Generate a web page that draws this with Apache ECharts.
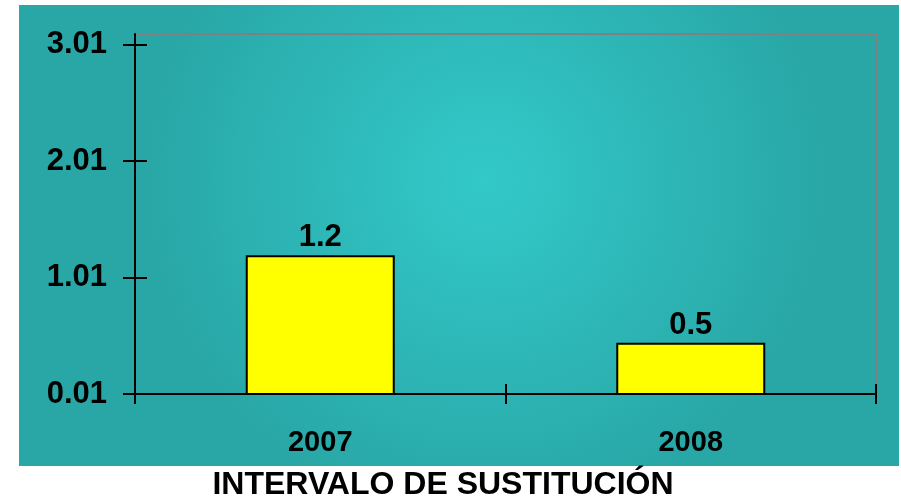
<!DOCTYPE html>
<html>
<head>
    <meta charset="utf-8">
    <title>Intervalo de sustitución</title>
    <script src="https://cdn.jsdelivr.net/npm/echarts@6/dist/echarts.min.js"></script>
    <style>
        html, body { margin: 0; padding: 0; background: #ffffff; }
        #main { width: 901px; height: 500px; }
    </style>
</head>
<body>
<div id="main"></div>
<script>
    // datos
    var years = ['2007', '2008'];
    var intervalo = [1.2, 0.45];
    var yTicks = [0.01, 1.01, 2.01, 3.01];

    var FONT = 'Liberation Sans, Arial, sans-serif';
    var myChart = echarts.init(document.getElementById('main'));

    var option = {
        animation: false,
        backgroundColor: '#ffffff',
        graphic: [{
            type: 'rect',
            z: -10,
            shape: { x: 19, y: 5, width: 880, height: 461 },
            style: {
                fill: {
                    type: 'radial', x: 0.53, y: 0.38, r: 0.75,
                    colorStops: [
                        { offset: 0, color: '#33c9c9' },
                        { offset: 1, color: '#29a6a6' }
                    ]
                }
            }
        }],
        title: {
            text: 'INTERVALO DE SUSTITUCIÓN',
            left: 438,
            textAlign: 'center',
            top: 464,
            textStyle: { fontFamily: FONT, fontSize: 32, fontWeight: 'bold', color: '#000' }
        },
        grid: {
            left: 135, right: 25, top: 34, bottom: 106,
            show: true, borderColor: '#808080', borderWidth: 2,
            backgroundColor: 'transparent'
        },
        xAxis: [{
            type: 'category',
            data: years,
            boundaryGap: true,
            axisLine: { lineStyle: { color: '#000', width: 2 } },
            axisTick: { show: true, alignWithLabel: false, interval: 0, length: 10, lineStyle: { color: '#000', width: 2 } },
            axisLabel: { margin: 34, fontFamily: FONT, fontSize: 29, fontWeight: 'bold', color: '#000' }
        }, {
            type: 'category',
            data: years,
            position: 'bottom',
            boundaryGap: true,
            axisLine: { show: false },
            axisTick: { show: true, interval: 0, inside: true, length: 10, lineStyle: { color: '#000', width: 2 } },
            axisLabel: { show: false }
        }],
        yAxis: [{
            type: 'value',
            min: 0.01,
            max: 3.1,
            axisLine: { show: true, lineStyle: { color: '#000', width: 2 } },
            axisTick: { show: true, length: 12, customValues: yTicks, lineStyle: { color: '#000', width: 2 } },
            splitLine: { show: false },
            axisLabel: {
                customValues: yTicks,
                margin: 28,
                padding: [8, 0, 0, 0],
                verticalAlign: 'middle',
                fontFamily: FONT, fontSize: 31, fontWeight: 'bold', color: '#000',
                formatter: function (v) { return v.toFixed(2); }
            }
        }, {
            type: 'value',
            min: 0.01,
            max: 3.1,
            position: 'left',
            axisLine: { show: false },
            axisTick: { show: true, inside: true, length: 12, customValues: yTicks, lineStyle: { color: '#000', width: 2 } },
            splitLine: { show: false },
            axisLabel: { show: false }
        }],
        series: [{
            type: 'bar',
            data: intervalo,
            barWidth: 149,
            itemStyle: { color: '#ffff00', borderColor: '#000', borderWidth: 2 },
            label: {
                show: true,
                position: 'top',
                distance: 2,
                fontFamily: FONT, fontSize: 31, fontWeight: 'bold', color: '#000',
                formatter: function (p) { return p.value.toFixed(1); }
            }
        }]
    };

    myChart.setOption(option);
</script>
</body>
</html>
